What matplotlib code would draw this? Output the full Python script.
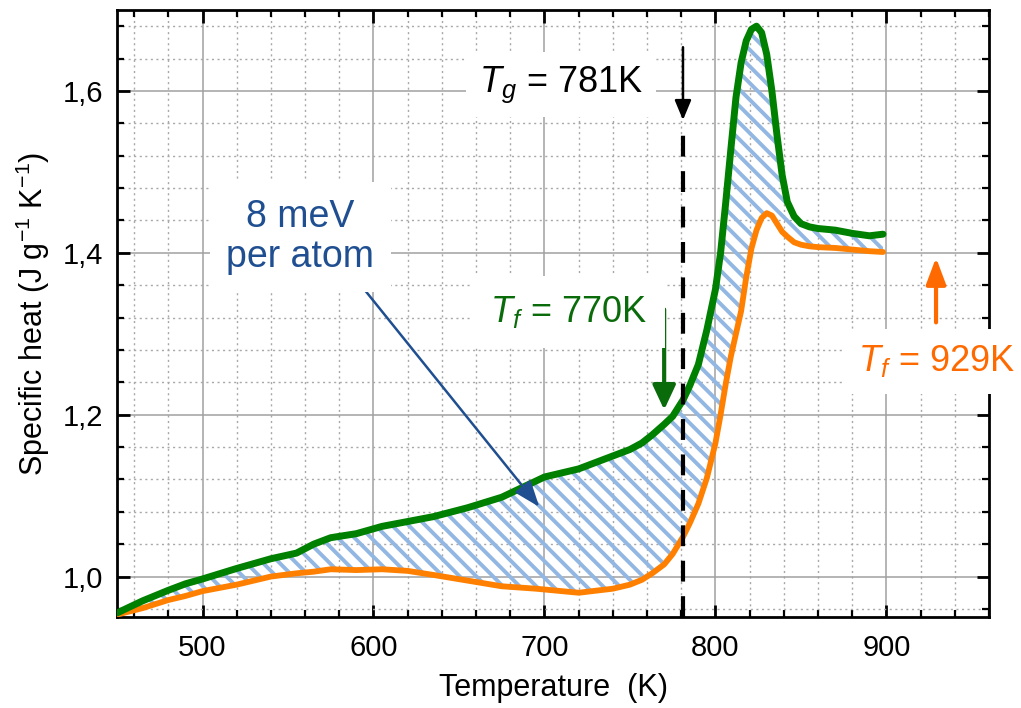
import numpy as np
import matplotlib
matplotlib.use('Agg')
import matplotlib.pyplot as plt
from matplotlib.ticker import MultipleLocator, FuncFormatter

plt.rcParams['font.family'] = ['Liberation Sans', 'DejaVu Sans']
plt.rcParams['mathtext.fontset'] = 'custom'
plt.rcParams['mathtext.rm'] = 'Liberation Sans'
plt.rcParams['mathtext.it'] = 'Liberation Sans:italic'
plt.rcParams['hatch.linewidth'] = 2.8

# temperature grid (K) shared by both scans
temp = [450, 465, 480, 490, 500, 520, 540, 555, 565, 575, 590, 605, 620, 635,
        655, 675, 695, 700, 720, 740, 750, 757, 763, 770, 775, 781, 785, 790,
        795, 800, 803, 806, 809, 812, 815, 818, 821, 824, 827, 830, 833, 836,
        839, 842, 846, 850, 855, 860, 870, 880, 890, 898]

# specific heat, J g^-1 K^-1
cp_green = [0.955, 0.970, 0.983, 0.991, 0.997, 1.010, 1.022, 1.029, 1.040,
            1.048, 1.053, 1.062, 1.068, 1.074, 1.085, 1.098, 1.118, 1.123,
            1.133, 1.149, 1.157, 1.165, 1.175, 1.188, 1.198, 1.218, 1.236,
            1.262, 1.305, 1.355, 1.400, 1.462, 1.528, 1.592, 1.635, 1.662,
            1.676, 1.680, 1.672, 1.645, 1.600, 1.545, 1.496, 1.463, 1.445,
            1.436, 1.432, 1.430, 1.428, 1.424, 1.421, 1.423]
cp_orange = [0.953, 0.961, 0.971, 0.976, 0.982, 0.990, 1.000, 1.004, 1.006,
             1.009, 1.008, 1.009, 1.007, 1.002, 0.995, 0.988, 0.985, 0.984,
             0.980, 0.985, 0.990, 0.996, 1.004, 1.015, 1.028, 1.049, 1.066,
             1.090, 1.122, 1.165, 1.200, 1.238, 1.272, 1.300, 1.328, 1.370,
             1.405, 1.428, 1.443, 1.449, 1.446, 1.436, 1.426, 1.420, 1.413,
             1.410, 1.408, 1.407, 1.406, 1.404, 1.402, 1.401]

y_ticks = [1.0, 1.2, 1.4, 1.6]
x_ticks = [500, 600, 700, 800, 900]

t_g = 781
t_f_green = 770
t_f_orange = 929

green = '#008000'
orange = '#ff8000'
text_green = '#0a6b0a'
text_orange = '#ff6a00'
blue = '#1f4f91'
hatch_blue = '#93b7e3'

fig = plt.figure(figsize=(10.21, 7.08), dpi=100)
ax = fig.add_axes([0.1146, 0.1285, 0.8541, 0.8574])

ax.fill_between(temp, cp_orange, cp_green, facecolor='none',
                edgecolor=hatch_blue, hatch='\\\\', lw=0, zorder=2)
ax.plot(temp, cp_orange, color=orange, lw=4.2, zorder=3,
        solid_capstyle='round', solid_joinstyle='round')
ax.plot(temp, cp_green, color=green, lw=5, zorder=3,
        solid_capstyle='round', solid_joinstyle='round')

ax.plot([t_g, t_g], [0.95, 1.552], color='k', lw=3, dashes=(5, 3.5),
        zorder=4)

box = dict(boxstyle='square,pad=0.35', fc='white', ec='none')

ax.annotate('', xy=(t_g, 1.564), xytext=(t_g, 1.654),
            arrowprops=dict(arrowstyle='-|>,head_length=0.6,head_width=0.25',
                            mutation_scale=20, lw=1.8, color='k',
                            shrinkA=0, shrinkB=0), zorder=5)
ax.text(709.7, 1.599, r'$T_g$ = 781K', fontsize=26, ha='center',
        va='baseline', color='k', bbox=box, zorder=5)

ax.annotate('', xy=(t_f_green, 1.206), xytext=(t_f_green, 1.330),
            arrowprops=dict(arrowstyle='-|>,head_length=0.75,head_width=0.35',
                            mutation_scale=20, lw=3, color=text_green,
                            shrinkA=0, shrinkB=0), zorder=5)
ax.text(714, 1.3144, r'$T_f$ = 770K', fontsize=26, ha='center',
        va='baseline', color=text_green,
        bbox=dict(boxstyle='square,pad=0.5', fc='white', ec='none'), zorder=5)

ax.annotate('', xy=(t_f_orange, 1.394), xytext=(t_f_orange, 1.314),
            arrowprops=dict(arrowstyle='-|>,head_length=0.8,head_width=0.3',
                            mutation_scale=20, lw=3, color=text_orange,
                            shrinkA=0, shrinkB=0), zorder=5)
ax.text(929.5, 1.2535, r'$T_f$ = 929K', fontsize=26, ha='center',
        va='baseline', color=text_orange,
        bbox=dict(boxstyle='square,pad=0.4', fc='white', ec='none'),
        zorder=5, clip_on=False)

ax.annotate('', xy=(697, 1.086), xytext=(593, 1.359),
            arrowprops=dict(arrowstyle='-|>,head_length=0.8,head_width=0.3',
                            mutation_scale=20, lw=1.8, color=blue,
                            shrinkA=0, shrinkB=0), zorder=5)
ax.text(557.3, 1.420, '8 meV\nper atom', fontsize=27, ha='center',
        va='center', color=blue, linespacing=1.15,
        bbox=dict(boxstyle='square,pad=0.45', fc='white', ec='none'),
        zorder=5)

ax.set_xlim(450, 960)
ax.set_ylim(0.95, 1.70)
ax.set_xticks(x_ticks)
ax.set_yticks(y_ticks)
ax.xaxis.set_minor_locator(MultipleLocator(20))
ax.yaxis.set_minor_locator(MultipleLocator(0.04))
ax.yaxis.set_major_formatter(FuncFormatter(lambda v, p: f'{v:.1f}'.replace('.', ',')))

ax.set_axisbelow(True)
ax.grid(which='major', color='#a0a0a0', lw=1.1, ls='-')
ax.grid(which='minor', color='#a8a8a8', lw=1.0, ls=(0, (1.5, 2.5)))

ax.tick_params(which='both', direction='in', top=True, right=True,
               labelsize=21, width=2)
ax.tick_params(which='major', length=9)
ax.tick_params(which='minor', length=5, width=1.6)
ax.tick_params(axis='x', pad=12)
ax.tick_params(axis='y', pad=10)
for s in ax.spines.values():
    s.set_linewidth(2)

ax.set_xlabel('Temperature  (K)', fontsize=22, labelpad=8)
ax.set_ylabel(r'Specific heat (J g$^{-1}$ K$^{-1}$)', fontsize=22, labelpad=8)

fig.savefig('out.png', dpi=100)
